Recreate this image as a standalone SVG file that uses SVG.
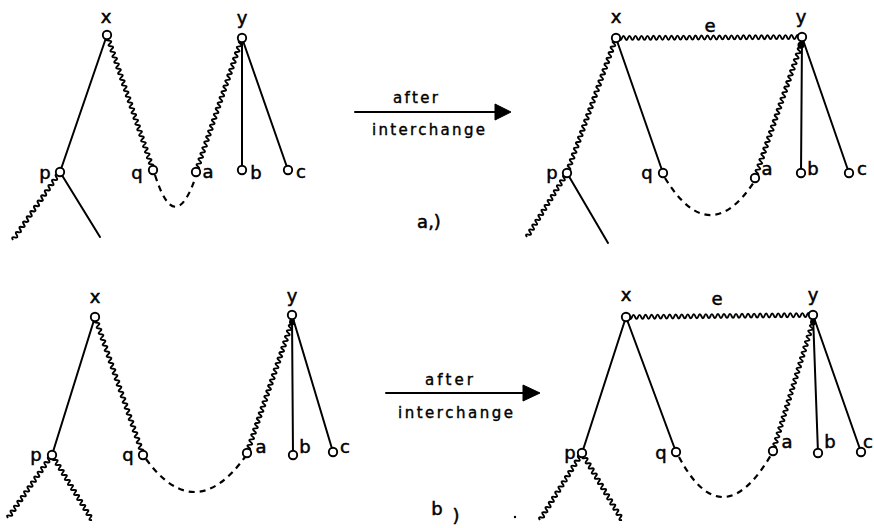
<svg xmlns="http://www.w3.org/2000/svg" xmlns:xlink="http://www.w3.org/1999/xlink" width="874" height="528" viewBox="0 0 874 528">
<style>
.e{fill:none;stroke:#000;stroke-width:2;stroke-linecap:round}
.w{fill:none;stroke:#000;stroke-width:1.9;stroke-linejoin:round}
.d{fill:none;stroke:#000;stroke-width:2.2;stroke-dasharray:6 5}
.n{fill:#fff;stroke:#000;stroke-width:1.9}
.t{font-family:"DejaVu Sans","Liberation Sans",sans-serif;font-size:18px;fill:#000;stroke:#000;stroke-width:0.5;text-anchor:middle}
.s{font-family:"DejaVu Sans","Liberation Sans",sans-serif;font-size:15px;fill:#000;stroke:#000;stroke-width:0.4}
</style>
<defs>
<path id="w78" class="w" d="M0,0 q1.5,-4 3,0 t3,0 3,0 3,0 3,0 3,0 3,0 3,0 3,0 3,0 3,0 3,0 3,0 3,0 3,0 3,0 3,0 3,0 3,0 3,0 3,0 3,0 3,0 3,0 3,0 3,0"/>
<path id="w144" class="w" d="M0,0 q1.5,-4 3,0 t3,0 3,0 3,0 3,0 3,0 3,0 3,0 3,0 3,0 3,0 3,0 3,0 3,0 3,0 3,0 3,0 3,0 3,0 3,0 3,0 3,0 3,0 3,0 3,0 3,0 3,0 3,0 3,0 3,0 3,0 3,0 3,0 3,0 3,0 3,0 3,0 3,0 3,0 3,0 3,0 3,0 3,0 3,0 3,0 3,0 3,0 3,0"/>
<path id="w186" class="w" d="M0,0 q1.5,-4 3,0 t3,0 3,0 3,0 3,0 3,0 3,0 3,0 3,0 3,0 3,0 3,0 3,0 3,0 3,0 3,0 3,0 3,0 3,0 3,0 3,0 3,0 3,0 3,0 3,0 3,0 3,0 3,0 3,0 3,0 3,0 3,0 3,0 3,0 3,0 3,0 3,0 3,0 3,0 3,0 3,0 3,0 3,0 3,0 3,0 3,0 3,0 3,0 3,0 3,0 3,0 3,0 3,0 3,0 3,0 3,0 3,0 3,0 3,0 3,0 3,0 3,0"/>
</defs>
<rect width="874" height="528" fill="#fff"/>
<g id="connectors">
<!-- A left -->
<use xlink:href="#w144" transform="translate(107,35) rotate(71.18) scale(0.990,1)"/>
<use xlink:href="#w144" transform="translate(242,38) rotate(108.95) scale(0.984,1)"/>
<use xlink:href="#w78" transform="translate(60,172) rotate(124.65) scale(1.060,1)"/>
<line class="e" x1="107" y1="35" x2="60" y2="172"/>
<line class="e" x1="242" y1="38" x2="242" y2="170"/>
<line class="e" x1="242" y1="38" x2="288" y2="170"/>
<line class="e" x1="60" y1="172" x2="100" y2="237"/>
<path class="d" d="M155,175 Q175,238 196,176"/>
<!-- A right -->
<use xlink:href="#w186" transform="translate(616,38) rotate(-0.31)"/>
<use xlink:href="#w144" transform="translate(616,38) rotate(109.95) scale(0.997,1)"/>
<use xlink:href="#w144" transform="translate(801,45) rotate(109.08) scale(0.977,1)"/>
<use xlink:href="#w78" transform="translate(567,173) rotate(122) scale(0.968,1)"/>
<line class="e" x1="616" y1="38" x2="663" y2="173"/>
<line class="e" x1="802" y1="37" x2="801" y2="173"/>
<line class="e" x1="802" y1="37" x2="849" y2="173"/>
<line class="e" x1="567" y1="173" x2="608" y2="243"/>
<path class="d" d="M665,178 Q709,250 754,182"/>
<!-- B left -->
<use xlink:href="#w144" transform="translate(95,317) rotate(70.82) scale(1.015,1)"/>
<use xlink:href="#w144" transform="translate(292,322) rotate(108.96) scale(0.962,1)"/>
<use xlink:href="#w78" transform="translate(52,455) rotate(124.93) scale(0.985,1)"/>
<use xlink:href="#w78" transform="translate(52,455) rotate(58.39) scale(0.978,1)"/>
<line class="e" x1="95" y1="317" x2="52" y2="455"/>
<line class="e" x1="292" y1="315" x2="293" y2="455"/>
<line class="e" x1="292" y1="315" x2="333" y2="452"/>
<path class="d" d="M146,459 Q195,526 245,457"/>
<!-- B right -->
<use xlink:href="#w186" transform="translate(626,317) rotate(-0.61) scale(1.005,1)"/>
<use xlink:href="#w144" transform="translate(813,322) rotate(107.23) scale(0.938,1)"/>
<use xlink:href="#w78" transform="translate(582,453) rotate(122.08) scale(1.014,1)"/>
<use xlink:href="#w78" transform="translate(582,453) rotate(59.16)"/>
<line class="e" x1="626" y1="317" x2="582" y2="453"/>
<line class="e" x1="626" y1="317" x2="676" y2="452"/>
<line class="e" x1="813" y1="315" x2="818" y2="453"/>
<line class="e" x1="813" y1="315" x2="861" y2="452"/>
<path class="d" d="M679,457 Q722,538 771,455"/>
<!-- blobs under y -->
<circle cx="801" cy="45" r="3.5"/>
<circle cx="292" cy="322" r="3"/>
<circle cx="813" cy="322" r="3"/>
</g>
<g id="arrow-a">
<line class="e" x1="355" y1="112" x2="498" y2="112" stroke-width="2.8"/>
<polygon points="495,104 511,112 495,120" fill="#000" stroke="#000" stroke-linejoin="round"/>
<text class="s" x="393" y="103" textLength="45" lengthAdjust="spacing">after</text>
<text class="s" x="372" y="135" textLength="113" lengthAdjust="spacing">interchange</text>
</g>
<g id="arrow-b">
<line class="e" x1="386" y1="393" x2="526" y2="393" stroke-width="2.8"/>
<polygon points="523,385 540,393 523,401" fill="#000" stroke="#000" stroke-linejoin="round"/>
<text class="s" x="425" y="385" textLength="48" lengthAdjust="spacing">after</text>
<text class="s" x="398" y="418" textLength="115" lengthAdjust="spacing">interchange</text>
</g>
<g id="caption-a"><text class="t" x="429" y="228">a,)</text></g>
<g id="caption-b"><text class="t" x="437" y="515">b</text><text class="t" x="456" y="522" font-size="12">)</text><circle cx="515" cy="517" r="1.2"/></g>
<!-- A left nodes -->
<g id="a1-x"><circle class="n" cx="107" cy="35" r="4.2"/><text class="t" x="106" y="23">x</text></g>
<g id="a1-y"><circle class="n" cx="242" cy="38" r="4.2"/><text class="t" x="242" y="24">y</text></g>
<g id="a1-p"><circle class="n" cx="60" cy="172" r="4.2"/><text class="t" x="45" y="179">p</text></g>
<g id="a1-q"><circle class="n" cx="153" cy="170" r="4.2"/><text class="t" x="137" y="179">q</text></g>
<g id="a1-a"><circle class="n" cx="196" cy="172" r="4.2"/><text class="t" x="208" y="178">a</text></g>
<g id="a1-b"><circle class="n" cx="242" cy="170" r="4.2"/><text class="t" x="256" y="179">b</text></g>
<g id="a1-c"><circle class="n" cx="288" cy="170" r="4.2"/><text class="t" x="301" y="178">c</text></g>
<!-- A right nodes -->
<g id="a2-x"><circle class="n" cx="616" cy="38" r="4.2"/><text class="t" x="616" y="23">x</text></g>
<g id="a2-y"><circle class="n" cx="802" cy="37" r="4.2"/><text class="t" x="801" y="23">y</text></g>
<g id="a2-e"><text class="t" x="710" y="32">e</text></g>
<g id="a2-p"><circle class="n" cx="567" cy="173" r="4.2"/><text class="t" x="552" y="179">p</text></g>
<g id="a2-q"><circle class="n" cx="663" cy="173" r="4.2"/><text class="t" x="647" y="179">q</text></g>
<g id="a2-a"><circle class="n" cx="755" cy="178" r="4.2"/><text class="t" x="767" y="175">a</text></g>
<g id="a2-b"><circle class="n" cx="801" cy="173" r="4.2"/><text class="t" x="813" y="175">b</text></g>
<g id="a2-c"><circle class="n" cx="849" cy="173" r="4.2"/><text class="t" x="862" y="175">c</text></g>
<!-- B left nodes -->
<g id="b1-x"><circle class="n" cx="95" cy="317" r="4.2"/><text class="t" x="95" y="303">x</text></g>
<g id="b1-y"><circle class="n" cx="292" cy="315" r="4.2"/><text class="t" x="292" y="302">y</text></g>
<g id="b1-p"><circle class="n" cx="52" cy="455" r="4.2"/><text class="t" x="36" y="461">p</text></g>
<g id="b1-q"><circle class="n" cx="143" cy="455" r="4.2"/><text class="t" x="128" y="461">q</text></g>
<g id="b1-a"><circle class="n" cx="247" cy="453" r="4.2"/><text class="t" x="261" y="453">a</text></g>
<g id="b1-b"><circle class="n" cx="293" cy="455" r="4.2"/><text class="t" x="305" y="453">b</text></g>
<g id="b1-c"><circle class="n" cx="333" cy="452" r="4.2"/><text class="t" x="345" y="453">c</text></g>
<!-- B right nodes -->
<g id="b2-x"><circle class="n" cx="626" cy="317" r="4.2"/><text class="t" x="626" y="301">x</text></g>
<g id="b2-y"><circle class="n" cx="813" cy="315" r="4.2"/><text class="t" x="813" y="301">y</text></g>
<g id="b2-e"><text class="t" x="717" y="305">e</text></g>
<g id="b2-p"><circle class="n" cx="582" cy="453" r="4.2"/><text class="t" x="570" y="459">p</text></g>
<g id="b2-q"><circle class="n" cx="676" cy="452" r="4.2"/><text class="t" x="661" y="459">q</text></g>
<g id="b2-a"><circle class="n" cx="773" cy="451" r="4.2"/><text class="t" x="787" y="448">a</text></g>
<g id="b2-b"><circle class="n" cx="818" cy="453" r="4.2"/><text class="t" x="830" y="448">b</text></g>
<g id="b2-c"><circle class="n" cx="861" cy="452" r="4.2"/><text class="t" x="868" y="448">c</text></g>
</svg>
